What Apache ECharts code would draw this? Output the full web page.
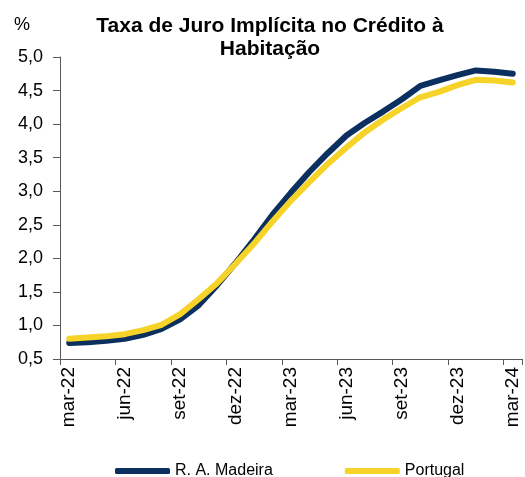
<!DOCTYPE html>
<html>
<head>
<meta charset="utf-8">
<script src="https://cdn.jsdelivr.net/npm/echarts@6/dist/echarts.min.js"></script>
<style>
html,body{margin:0;padding:0;background:#fff;}
#chart{width:525px;height:477px;}
</style>
</head>
<body>
<div id="chart"></div>
<script>
const categories = ["mar-22","abr-22","mai-22","jun-22","jul-22","ago-22","set-22","out-22","nov-22","dez-22","jan-23","fev-23","mar-23","abr-23","mai-23","jun-23","jul-23","ago-23","set-23","out-23","nov-23","dez-23","jan-24","fev-24","mar-24"];
const madeira = [0.74,0.75,0.77,0.80,0.86,0.95,1.09,1.30,1.60,1.93,2.28,2.65,2.98,3.29,3.57,3.83,4.02,4.19,4.37,4.57,4.65,4.73,4.80,4.78,4.75];
const portugal = [0.80,0.82,0.84,0.87,0.93,1.01,1.17,1.39,1.63,1.92,2.22,2.55,2.86,3.14,3.41,3.65,3.88,4.07,4.24,4.40,4.48,4.58,4.66,4.65,4.62];
const seriesNames = ["R. A. Madeira","Portugal"];
const titleText = "Taxa de Juro Implícita no Crédito à\nHabitação";
const yUnit = "%";

const font = '"Liberation Sans", Arial, sans-serif';
const chart = echarts.init(document.getElementById('chart'), null, {renderer:'canvas'});
chart.setOption({
  animation:false,
  backgroundColor:'#ffffff',
  title:[
    {text:titleText,left:265,top:10,textAlign:'center',
     textStyle:{fontFamily:font,fontSize:21,fontWeight:'bold',color:'#000',lineHeight:23,align:'center'}},
    {text:yUnit,left:9,top:11,textStyle:{fontFamily:font,fontSize:18,fontWeight:'normal',color:'#000'}}
  ],
  legend:{
    left:110, top:458, itemWidth:55, itemHeight:6, itemGap:72, icon:'roundRect',
    textStyle:{fontFamily:font,fontSize:16,color:'#000'},
    data:seriesNames
  },
  grid:{left:60,right:3,top:57,bottom:118,containLabel:false},
  xAxis:{
    type:'category', data:categories, boundaryGap:true,
    axisLine:{lineStyle:{color:'#595959',width:1}},
    axisTick:{show:true,interval:2,length:6,lineStyle:{color:'#595959'}},
    axisLabel:{interval:2,rotate:90,margin:8,fontFamily:font,fontSize:19,color:'#000'},
    splitLine:{show:false}
  },
  yAxis:{
    type:'value', min:0.5, max:5.0, interval:0.5,
    axisLine:{show:true,lineStyle:{color:'#595959',width:1}},
    axisTick:{show:true,length:7,lineStyle:{color:'#595959'}},
    axisLabel:{margin:17,fontFamily:font,fontSize:18,color:'#000',
      formatter:v=>v.toFixed(1).replace('.',',')},
    splitLine:{show:false}
  },
  series:[
    {name:seriesNames[0],type:'line',data:madeira,symbol:'none',
     lineStyle:{color:'#0B2F5E',width:6,cap:'round',join:'round'},itemStyle:{color:'#0B2F5E'}},
    {name:seriesNames[1],type:'line',data:portugal,symbol:'none',
     lineStyle:{color:'#F5D328',width:6,cap:'round',join:'round'},itemStyle:{color:'#F5D328'}}
  ]
});
</script>
</body>
</html>
